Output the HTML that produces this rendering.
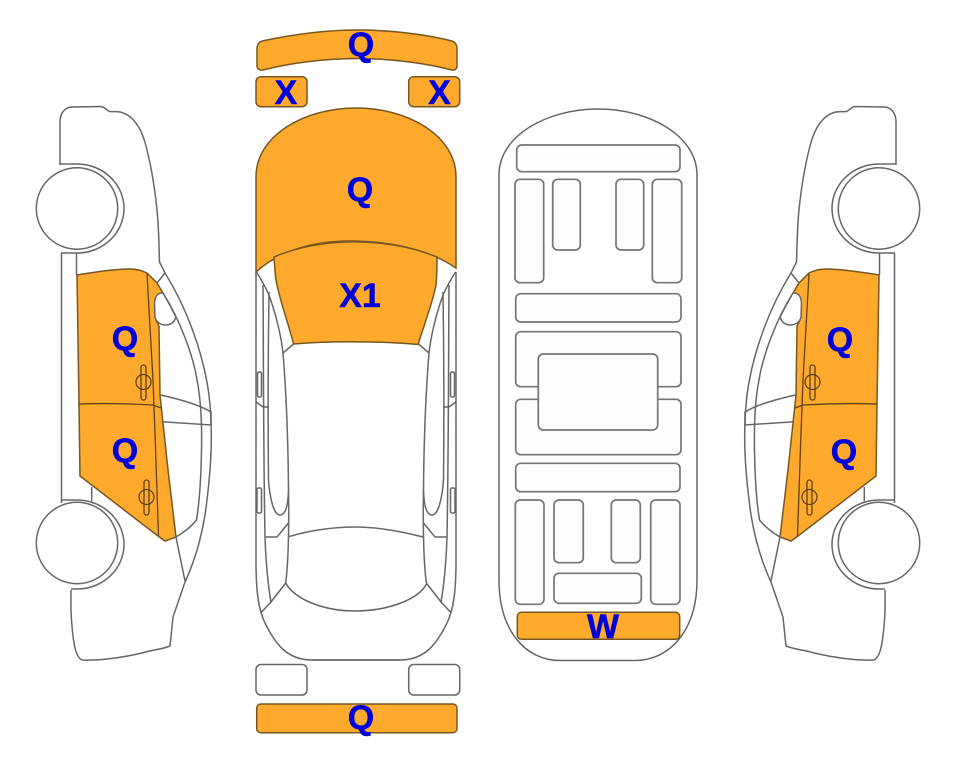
<!DOCTYPE html>
<html>
<head>
<meta charset="utf-8">
<style>
html,body{margin:0;padding:0;background:#fff}
svg{display:block}
.l{fill:none;stroke:#666;stroke-width:1.5}
.w{fill:#fff;stroke:#666;stroke-width:1.5}
.g{fill:#fdfdfd;stroke:#757575;stroke-width:1.7}
.o{fill:#ffa92d;stroke:#75581f;stroke-width:1.5}
.d{fill:none;stroke:#5e4318;stroke-width:1.3}
text{font-family:"Liberation Sans",sans-serif;font-weight:bold;font-size:34px;fill:#0000d8;stroke:#0000d8;stroke-width:.5;text-anchor:middle}
</style>
</head>
<body>
<svg width="963" height="768" viewBox="0 0 963 768" xmlns="http://www.w3.org/2000/svg">
<defs>
<g id="side">
  <path class="o" d="M77 275C95 272 115 269 130 269C138 269 143 271 147 273L157 283L163 293L158 296C155 303 154 312 156 320L159 326L160 395L168 470L176 537L165 541L158 536L80 476L79 405Z"/>
  <path class="l" d="M60 165V122C60 113 65 107 72 107L101 106.500C105 107 107 111 110 111.500C114 112 118 111 122 112.500C136 117 143 132 147 150C152 170 155 190 157 210C159 230 159 248 159.500 262L165 273C185 305 203 350 209 395C213 430 212 465 205 515C200 545 193 565 185 582L173 617L170 646C160 650 150 650 142 653C125 657 100 661 82 660C75 657 73 640 71.500 620C70.500 608 71 598 71 590"/>
  <path class="l" d="M60 164H77C103 164 124 184 124 208.500C124 233 103 253 77 253H61"/>
  <path class="l" d="M61.500 253V503"/>
  <path class="l" d="M76.500 253V275"/>
  <path class="l" d="M91.700 487V501"/>
  <path class="l" d="M61 500H77C103 500 124 520 124 544.500C124 569 103 589 77 589H71"/>
  <path class="l" d="M157 283L165 273"/>
  <path class="l" d="M163 293C180 320 193 355 197 380C201 400 202 425 201.500 450C201 480 199 505 196.500 520C190 528 183 533 176 537L185 581"/>
  <path class="l" d="M160.700 395C178 399 198 404 211 412L211 425L162 421.700"/>
  <path class="w" d="M154.500 303C155 296 158 292.500 163 293C167 300 172 309 175.700 316.700C175 321 172 324 167 325C161 325.500 156 322 155 317Z"/>
  <path class="d" d="M147 274C149 310 151 345 153 380C155 430 157 490 158.500 536"/>
  <path class="d" d="M79 404C105 403 135 404 153 405L161 408"/>
  <rect class="d" x="141" y="365" width="5" height="35" rx="2.500"/>
  <ellipse class="d" cx="143.500" cy="382" rx="7.500" ry="7.500"/>
  <rect class="d" x="144" y="480" width="5" height="35" rx="2.500"/>
  <ellipse class="d" cx="146.500" cy="497" rx="7.500" ry="7.500"/>
  <circle class="w" cx="77" cy="208.500" r="40.700"/>
  <circle class="w" cx="77" cy="543" r="40.700"/>
</g>
<g id="half">
  <path class="l" d="M256 272V560C256 590 258 610 266 625C276 645 288 660 312 660H356"/>
  <path class="l" d="M256.500 272C262 281 266 288 269 295C276 315 281 335 283 353C286 390 288 430 288.500 490C289 520 288.500 560 285.700 583"/>
  <path class="l" d="M283 353L293.500 344"/>
  <path class="l" d="M263 285C263.500 360 263.500 460 265 537C266 565 268 585 271 602"/>
  <path class="l" d="M269 292C268 360 268 430 268.500 480C270 500 274 515 280 515C285 515 288 508 288.500 490"/>
  <path class="l" d="M265 537H277L288.500 523"/>
  <path class="l" d="M260.700 613L271 602L285.700 583"/>
  <path class="l" d="M256 402L263 407H269"/>
  <rect class="l" x="257.500" y="372" width="4" height="25" rx="1.500"/>
  <rect class="l" x="257" y="488" width="4.500" height="25" rx="1.500"/>
</g>
</defs>

<!-- left / right side views -->
<use href="#side"/>
<use href="#side" transform="translate(956,0) scale(-1,1)"/>

<!-- top view -->
<path class="o" d="M256 272V177C256 135 305 108 356 108C407 108 456 135 456 177V268C430 250 390 241 350 241C315 241 280 250 256 272Z"/>
<path class="o" d="M274 257C274.500 265 275 272 276 280C280 302 289 325 293.500 344C330 341 380 341 418 344.500C424 325 432 305 436 285C437 275 437 265 437 257C410 246 380 241 345 242C320 243 295 248 274 257Z"/>
<use href="#half"/>
<use href="#half" transform="translate(712,0) scale(-1,1)"/>
<path class="l" d="M288.700 536.700C310 530 335 527 355 527C378 527 400 531 423 537"/>
<path class="l" d="M285.700 583C295 600 325 611 355 611C387 611 418 600 426.500 584"/>
<path class="l" d="M312 660H400"/>

<path class="o" d="M262 41C295 34 330 30 358 30C388 30 425 34 452 41C455 42 457 45 457 48V66C457 69 455 70.500 452 70C425 63 390 58.500 358 58.500C325 58.500 290 63 263 70C260 70.500 257 69 257 66V48C257 45 259 42 262 41Z"/>
<rect class="o" x="256" y="76.700" width="51" height="30" rx="5"/>
<rect class="o" x="408.700" y="76.700" width="51" height="30" rx="5"/>
<rect class="w" x="256" y="664.500" width="51" height="30.500" rx="5"/>
<rect class="w" x="408.700" y="664.500" width="51" height="30.500" rx="5"/>
<rect class="o" x="256.700" y="704" width="200.300" height="28.700" rx="4"/>

<!-- underside view -->
<path class="l" d="M499 175C499 135 548 109 598 109C648 109 697 135 697 175V580C697 630 670 660.500 635 660.500H560C525 660.500 499 630 499 580Z"/>
<rect class="g" x="516.700" y="145" width="163.300" height="26.700" rx="5"/>
<rect class="g" x="515" y="179.300" width="28.700" height="103.400" rx="5"/>
<rect class="g" x="552.700" y="179.300" width="27.600" height="70.700" rx="5"/>
<rect class="g" x="616" y="179.300" width="27.700" height="70.700" rx="5"/>
<rect class="g" x="652.300" y="179.300" width="29.400" height="103.400" rx="5"/>
<rect class="g" x="515.700" y="293.700" width="165.300" height="28.300" rx="5"/>
<rect class="g" x="515.700" y="331.700" width="165.300" height="55" rx="5"/>
<rect class="g" x="515.700" y="399.300" width="165.300" height="55.400" rx="5"/>
<rect class="g" x="538.300" y="354" width="119.400" height="76" rx="5"/>
<rect class="g" x="515.700" y="463.300" width="164.300" height="28.400" rx="5"/>
<rect class="g" x="515.300" y="500" width="28.700" height="104.300" rx="5"/>
<rect class="g" x="554" y="500" width="29.300" height="62.700" rx="5"/>
<rect class="g" x="611.300" y="500" width="29" height="62.700" rx="5"/>
<rect class="g" x="650.700" y="500" width="29.300" height="104.300" rx="5"/>
<rect class="g" x="554" y="573.300" width="87.300" height="30" rx="5"/>
<rect class="o" x="517.300" y="612.300" width="162.400" height="27" rx="4"/>

<!-- labels -->
<text x="361" y="56">Q</text>
<text x="286" y="104">X</text>
<text x="439.500" y="104">X</text>
<text x="360" y="201">Q</text>
<text x="360" y="307">X1</text>
<text x="361" y="729">Q</text>
<text x="603" y="638">W</text>
<text x="125" y="350">Q</text>
<text x="125" y="462">Q</text>
<text x="840" y="351">Q</text>
<text x="844" y="463">Q</text>
</svg>
</body>
</html>
